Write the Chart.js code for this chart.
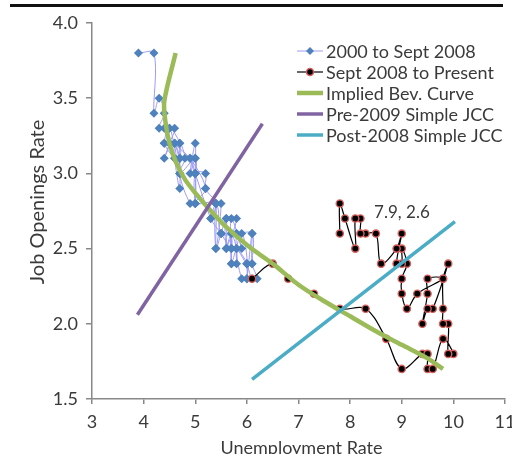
<!DOCTYPE html>
<html>
<head>
<meta charset="utf-8">
<script src="https://cdn.jsdelivr.net/npm/chart.js@4/dist/chart.umd.min.js"></script>
<style>
  html, body { margin: 0; padding: 0; background: #fff; overflow: hidden; }
  #topRule { position: absolute; left: 10px; top: 4px; width: 493px; height: 2.5px; background: #111; }
  #wrap { position: absolute; left: 0; top: 0; width: 530px; height: 480px; }
</style>
</head>
<body>
<div id="wrap"><canvas id="bevChart"></canvas></div>
<div id="topRule"></div>
<script>
/* Beveridge curve: job openings rate vs unemployment rate */

const seriesNames = ['2000 to Sept 2008', 'Sept 2008 to Present', 'Implied Bev. Curve', 'Pre-2009 Simple JCC', 'Post-2008 Simple JCC'];
const xTitle = 'Unemployment Rate';
const yTitle = 'Job Openings Rate';
const xTicks = [3, 4, 5, 6, 7, 8, 9, 10, 11];
const yTicks = [1.5, 2.0, 2.5, 3.0, 3.5, 4.0];

// 2000 to Sept 2008 (monthly)
const preUnemp = [3.9,4.2,4.2,4.3,4.4,4.3,4.5,4.6,4.9,5.0,5.3,5.5,5.7,5.7,5.7,5.7,5.9,5.8,5.8,5.8,
  5.7,5.7,5.7,5.9,6.0,5.8,5.9,6.0,6.0,6.1,6.2,6.1,6.1,6.0,6.0,5.8,5.7,5.7,5.6,5.8,
  5.6,5.6,5.6,5.5,5.4,5.4,5.5,5.4,5.4,5.3,5.4,5.2,5.2,5.0,5.0,5.0,4.9,5.0,5.0,5.0,
  4.9,4.7,4.8,4.7,4.7,4.6,4.6,4.7,4.7,4.5,4.4,4.5,4.4,4.6,4.5,4.4,4.5,4.4,4.6,4.7,
  4.6,4.7,4.7,4.7,5.0,5.0,4.9,5.2,5.0,5.4,5.5,5.8,6.1,6.1];
const preOpen = [3.8,3.8,3.4,3.5,3.4,3.3,3.3,3.2,3.1,3.0,2.7,2.6,2.5,2.6,2.4,2.7,2.5,2.6,2.4,2.5,
  2.6,2.5,2.4,2.6,2.4,2.5,2.3,2.3,2.4,2.3,2.3,2.4,2.6,2.3,2.4,2.5,2.5,2.6,2.5,2.7,
  2.7,2.5,2.7,2.6,2.5,2.8,2.8,2.5,2.8,2.7,2.8,2.9,3.0,3.0,2.8,3.1,3.0,3.2,3.0,2.8,
  2.8,3.0,3.1,3.2,2.9,3.1,3.2,3.1,3.2,3.3,3.2,3.2,3.3,3.3,3.2,3.1,3.2,3.2,3.1,3.1,
  3.2,3.0,3.1,3.0,3.1,3.0,3.1,2.9,2.8,2.8,2.6,2.6,2.6,2.4];

// Sept 2008 to present
const postUnemp = [6.1,6.5,6.8,7.3,7.8,8.3,8.7,9.0,9.4,9.5,9.5,9.6,9.8,10.0,9.9,9.9,9.8,9.8,9.8,9.9,
  9.6,9.5,9.4,9.5,9.5,9.8,9.3,9.1,9.0,9.0,9.1,9.0,9.0,8.9,9.0,8.9,8.6,8.5,8.3,8.2,
  8.2,8.1,8.1,7.9,7.8,7.8];
const postOpen = [2.3,2.4,2.3,2.2,2.1,2.1,1.9,1.7,1.8,1.8,1.7,1.7,1.9,1.8,1.8,2.0,2.0,2.1,2.3,2.4,
  2.1,2.1,2.0,2.2,2.3,2.3,2.2,2.1,2.2,2.3,2.4,2.5,2.4,2.4,2.6,2.5,2.4,2.6,2.6,2.6,
  2.7,2.7,2.5,2.7,2.8,2.6];

// implied Beveridge curve
const bevUnemp = [4.62,4.40,4.42,4.50,4.62,4.80,5.00,5.25,5.55,6.05,6.50,7.00,7.50,8.00,8.50,9.00,9.50,9.80];
const bevOpen  = [3.80,3.48,3.35,3.20,3.08,2.96,2.87,2.77,2.66,2.51,2.40,2.26,2.15,2.05,1.95,1.86,1.77,1.70];

// simple job creation curves
const preJccUnemp = [3.88, 6.30];
const preJccOpen  = [2.06, 3.33];
const postJccUnemp = [6.10, 10.03];
const postJccOpen  = [1.63, 2.68];

// callout for the latest reading
const calloutText = '7.9, 2.6';
const calloutAt = [7.9, 2.6];

const toPts = (xs, ys) => xs.map((x, i) => ({ x: x, y: ys[i] }));

const FONT = 'Lato, "Open Sans", sans-serif';
const TXT = '#3a3a3a';

/* axis titles, legend and callout */
const overlayPlugin = {
  id: 'overlay',
  afterDraw(chart) {
    const ctx = chart.ctx;
    const xs = chart.scales.x, ys = chart.scales.y;
    const area = chart.chartArea;
    ctx.save();
    ctx.fillStyle = TXT;
    ctx.textAlign = 'center';
    ctx.textBaseline = 'middle';

    // axis titles
    ctx.font = '18px ' + FONT;
    ctx.fillText(xTitle, (area.left + area.right) / 2 + 3, area.bottom + 49);
    ctx.save();
    ctx.translate(38, (area.top + area.bottom) / 2 - 9);
    ctx.rotate(-Math.PI / 2);
    ctx.font = '20px ' + FONT;
    ctx.fillText(yTitle, 0, 0);
    ctx.restore();

    // callout
    ctx.font = '17px ' + FONT;
    ctx.fillText(calloutText, xs.getPixelForValue(calloutAt[0]) + 57, ys.getPixelForValue(calloutAt[1]) - 21);

    // legend
    const lx = area.right - 208;
    const ly = area.top + 28;
    ctx.textAlign = 'left';
    ctx.font = '18px ' + FONT;
    chart.data.datasets.forEach((ds, i) => {
      const y = ly + i * 21;
      ctx.strokeStyle = ds.borderColor;
      ctx.lineWidth = ds.borderWidth;
      ctx.beginPath();
      ctx.moveTo(lx, y);
      ctx.lineTo(lx + 26, y);
      ctx.stroke();
      const cx = lx + 13;
      if (ds.pointStyle === 'rectRot') {
        ctx.fillStyle = ds.pointBackgroundColor;
        ctx.beginPath();
        ctx.moveTo(cx, y - 4); ctx.lineTo(cx + 4, y); ctx.lineTo(cx, y + 4); ctx.lineTo(cx - 4, y);
        ctx.closePath();
        ctx.fill();
      } else if (ds.pointStyle === 'circle') {
        ctx.fillStyle = ds.pointBackgroundColor;
        ctx.strokeStyle = ds.pointBorderColor;
        ctx.lineWidth = 1.5;
        ctx.beginPath();
        ctx.arc(cx, y, 3.5, 0, Math.PI * 2);
        ctx.fill();
        ctx.stroke();
      }
      ctx.fillStyle = TXT;
      ctx.fillText(seriesNames[i], lx + 29, y + 1);
    });
    ctx.restore();
  }
};

const ctx = document.getElementById('bevChart').getContext('2d');
new Chart(ctx, {
  type: 'scatter',
  data: {
    datasets: [
      { label: seriesNames[0], data: toPts(preUnemp, preOpen), showLine: true, tension: 0.35,
        borderColor: '#9c9cf6', borderWidth: 1, pointStyle: 'rectRot', pointRadius: 4.5,
        pointBackgroundColor: '#4f81bd', pointBorderColor: '#4f81bd', pointBorderWidth: 0, order: 5 },
      { label: seriesNames[1], data: toPts(postUnemp, postOpen), showLine: true, tension: 0.35,
        borderColor: '#000', borderWidth: 1.2, pointStyle: 'circle', pointRadius: 3.6,
        pointBackgroundColor: '#000', pointBorderColor: '#d9605c', pointBorderWidth: 1.4, order: 4 },
      { label: seriesNames[2], data: toPts(bevUnemp, bevOpen), showLine: true, tension: 0.3,
        borderColor: '#9bbb59', borderWidth: 4.5, pointRadius: 0, order: 3 },
      { label: seriesNames[3], data: toPts(preJccUnemp, preJccOpen), showLine: true,
        borderColor: '#8064a2', borderWidth: 3.5, pointRadius: 0, order: 2 },
      { label: seriesNames[4], data: toPts(postJccUnemp, postJccOpen), showLine: true,
        borderColor: '#4bacc6', borderWidth: 3.5, pointRadius: 0, order: 1 }
    ]
  },
  options: {
    responsive: true,
    maintainAspectRatio: false,
    animation: false,
    layout: { padding: { left: 0, top: 23, right: 25, bottom: 11 } },
    plugins: { legend: { display: false }, tooltip: { enabled: false } },
    scales: {
      x: {
        type: 'linear', min: xTicks[0], max: xTicks[xTicks.length - 1],
        afterBuildTicks: s => { s.ticks = xTicks.map(v => ({ value: v })); },
        afterFit: s => { s.height = 70; },
        border: { color: '#888', width: 1.5 },
        grid: { drawOnChartArea: false, tickLength: 5, color: '#888', lineWidth: 1.5 },
        ticks: { color: TXT, font: { family: FONT, size: 18 }, padding: 7, callback: v => String(v) }
      },
      y: {
        type: 'linear', min: yTicks[0], max: yTicks[yTicks.length - 1],
        afterBuildTicks: s => { s.ticks = yTicks.map(v => ({ value: v })); },
        afterFit: s => { s.width = 92; },
        border: { color: '#888', width: 1.5 },
        grid: { drawOnChartArea: false, tickLength: 6, color: '#888', lineWidth: 1.5 },
        ticks: { color: TXT, font: { family: FONT, size: 18 }, padding: 8, callback: v => v.toFixed(1) }
      }
    }
  },
  plugins: [overlayPlugin]
});
</script>
</body>
</html>
